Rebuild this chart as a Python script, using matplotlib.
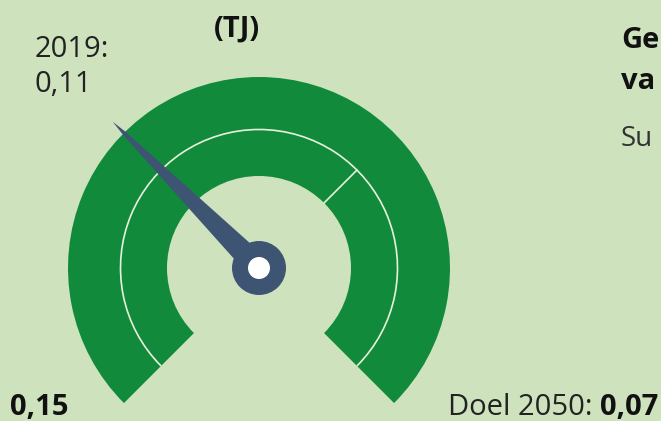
import matplotlib
matplotlib.use("Agg")
import matplotlib.pyplot as plt
from matplotlib.patches import Wedge, Circle, Polygon, Arc
import numpy as np

# gauge data (TJ)
value_2019 = 0.11
goal_2050 = 0.07
scale_start = 0.15
scale_end = 0.03
label_year = "2019:"
label_value = "0,11"
label_start = "0,15"
label_goal = "Doel 2050: "
label_goal_value = "0,07"
unit = "(TJ)"

bg = "#cee3bd"
green = "#128a3c"
needle_col = "#3e5473"
sep_col = "#e6f2da"
txt = "#222222"

W, H = 661, 421
fig = plt.figure(figsize=(W / 100, H / 100), dpi=100, facecolor=bg)
ax = fig.add_axes([0, 0, 1, 1])
ax.set_xlim(0, W)
ax.set_ylim(0, H)
ax.set_aspect("equal")
ax.axis("off")
ax.set_facecolor(bg)

plt.rcParams['font.family'] = ["Open Sans", "DejaVu Sans"]

cx, cy = 259, H - 268
r_out, r_mid, r_in = 191, 138.5, 92
a_start, a_end = 225, -45


def to_angle(v):
	# linear scale from value to gauge angle (degrees)
	f = (scale_start - v) / (scale_start - scale_end)
	return a_start + f * (a_end - a_start)


goal_ang = to_angle(goal_2050)
# outer band
ax.add_patch(Wedge((cx, cy), r_out, a_end, a_start, width=r_out - r_mid, color=green, lw=0))
# inner band, split at the goal
ax.add_patch(Wedge((cx, cy), r_mid, goal_ang, a_start, width=r_mid - r_in, color=green, lw=0))
ax.add_patch(Wedge((cx, cy), r_mid, a_end, goal_ang, width=r_mid - r_in, color=green, lw=0))
# separators
ax.add_patch(Arc((cx, cy), 2 * r_mid, 2 * r_mid, theta1=a_end, theta2=a_start, color=sep_col, lw=1.2))
ga = np.radians(goal_ang)
ax.plot([cx + r_in * np.cos(ga), cx + r_mid * np.cos(ga)],
		[cy + r_in * np.sin(ga), cy + r_mid * np.sin(ga)], color=sep_col, lw=1.2)

# needle: tapered bar ending in a thin point
na = np.radians(to_angle(value_2019))
ux, uy = np.cos(na), np.sin(na)
px, py = -uy, ux
tip, neck = 207, 190
hw0, hw1 = 12.5, 2.0
pts = [(cx + tip * ux, cy + tip * uy),
	   (cx + neck * ux + hw1 * px, cy + neck * uy + hw1 * py),
	   (cx + hw0 * px, cy + hw0 * py),
	   (cx - hw0 * px, cy - hw0 * py),
	   (cx + neck * ux - hw1 * px, cy + neck * uy - hw1 * py)]
ax.add_patch(Polygon(pts, closed=True, color=needle_col, lw=0))
ax.add_patch(Circle((cx, cy), 27, color=needle_col, lw=0))
ax.add_patch(Circle((cx, cy), 11, color="white", lw=0))

fs = 21
ax.text(35, H - 57, label_year, fontsize=fs, color=txt, va="baseline")
ax.text(35, H - 92, label_value, fontsize=fs, color=txt, va="baseline")
ax.text(237, H - 37, unit, fontsize=fs, color="#111111", fontweight="bold", ha="center", va="baseline")
# title on the right, only its start is visible
ax.text(621, H - 48, "Ge", fontsize=fs, color="#111111", fontweight="bold", va="baseline")
ax.text(621, H - 89, "va", fontsize=fs, color="#111111", fontweight="bold", va="baseline")
ax.text(621, H - 146, "Su", fontsize=fs - 1, color="#333333", va="baseline")
ax.text(10, H - 415, label_start, fontsize=fs, color="#111111", fontweight="bold", va="baseline")

t_goal = ax.text(658, H - 415, label_goal_value, fontsize=fs, color="#111111", fontweight="bold",
				 ha="right", va="baseline")
fig.canvas.draw()
bb = t_goal.get_window_extent().transformed(ax.transData.inverted())
ax.text(bb.x0, H - 415, label_goal, fontsize=fs, color=txt, ha="right", va="baseline")

fig.savefig("out.png", dpi=100, facecolor=bg)
